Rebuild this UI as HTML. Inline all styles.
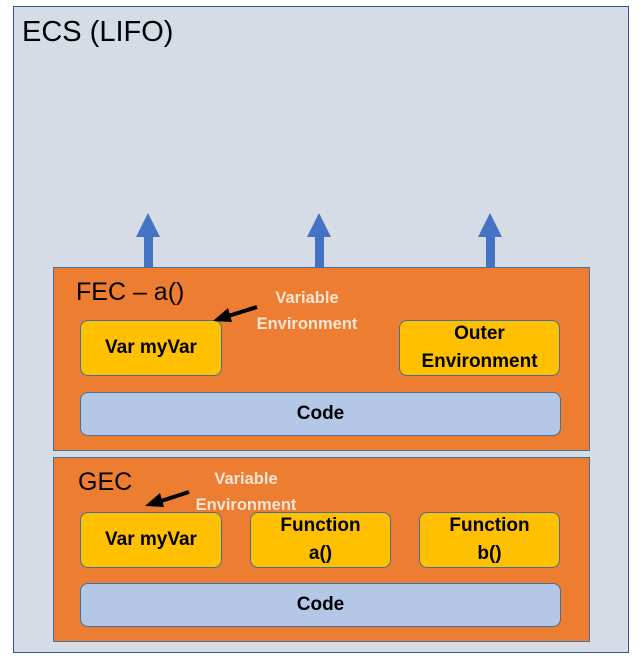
<html><head><style>
body{margin:0;width:642px;height:664px;background:#fff;position:relative;font-family:"Liberation Sans",sans-serif}
div{position:absolute;box-sizing:border-box}
.o{background:#ed7d31;border:1px solid #41719c}
.y{background:#ffc000;border:1px solid #41719c;border-radius:8px;display:flex;align-items:center;justify-content:center;text-align:center;font-weight:bold;font-size:19px;line-height:28px;color:#000}
.c{background:#b4c7e7;border:1px solid #41719c;border-radius:8px;display:flex;align-items:center;justify-content:center;font-weight:bold;font-size:19px}
.w{color:#fbe5d6;font-weight:bold;font-size:16.5px;text-align:center;line-height:26px}
</style></head><body>
<div style="left:13px;top:6px;width:616px;height:647px;background:#d6dce5;border:1px solid #2f5597"></div>
<div style="left:22px;top:16px;font-size:29px;color:#000">ECS (LIFO)</div>
<svg style="position:absolute;left:0;top:0" width="642" height="664">
<g fill="#4472c4">
<rect x="144" y="235" width="9" height="33"/><polygon points="136,237 148,213 160,237"/>
<rect x="315" y="235" width="9" height="33"/><polygon points="307,237 319,213 331,237"/>
<rect x="486" y="235" width="9" height="33"/><polygon points="478,237 490,213 502,237"/>
</g></svg>
<div class="o" style="left:53px;top:267px;width:537px;height:184px"></div>
<div class="o" style="left:53px;top:457px;width:537px;height:185px"></div>
<div style="left:76px;top:278px;font-size:25px">FEC – a()</div>
<div style="left:78px;top:468px;font-size:25px">GEC</div>
<div class="w" style="left:245px;top:285px;width:124px">Variable<br>Environment</div>
<div class="w" style="left:184px;top:466px;width:124px">Variable<br>Environment</div>
<div class="y" style="left:80px;top:320px;width:142px;height:56px">Var myVar</div>
<div class="y" style="left:399px;top:320px;width:161px;height:56px">Outer<br>Environment</div>
<div class="c" style="left:80px;top:392px;width:481px;height:44px">Code</div>
<div class="y" style="left:80px;top:512px;width:142px;height:56px">Var myVar</div>
<div class="y" style="left:250px;top:512px;width:141px;height:56px">Function<br>a()</div>
<div class="y" style="left:419px;top:512px;width:141px;height:56px">Function<br>b()</div>
<div class="c" style="left:80px;top:583px;width:481px;height:44px">Code</div>
<svg style="position:absolute;left:0;top:0" width="642" height="664">
<line x1="257" y1="307" x2="225" y2="317" stroke="#000" stroke-width="4"/><polygon points="213,321 228,308 232,322"/>
<line x1="189" y1="492" x2="158" y2="502" stroke="#000" stroke-width="4"/><polygon points="145,506 160,493 164,507"/>
</svg>
</body></html>
